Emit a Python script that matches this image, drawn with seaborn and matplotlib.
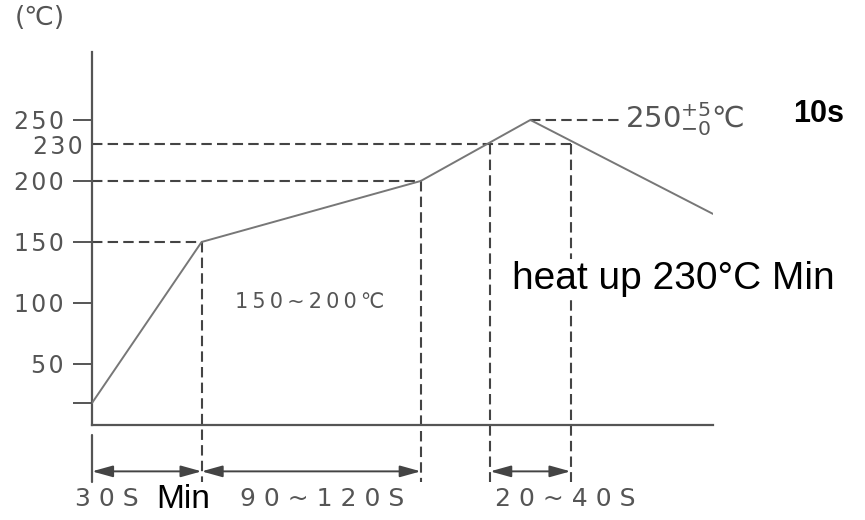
import matplotlib
matplotlib.use("Agg")
import matplotlib.pyplot as plt
import pandas as pd
import seaborn as sns

# reflow profile (time in s, temperature in degC)
time_s = [0, 30, 90, 120, 170]
temp_c = [18, 150, 200, 250, 173]

# dashed guides: where each zone boundary meets the curve
guide_t = [30, 90, 109, 131]
guide_temp = [150, 200, 230, 230]
level_temp = [150, 200, 230]
level_end = [30, 90, 131]
peak_t, peak_temp = 120, 250

ytick_vals = [18, 50, 100, 150, 200, 250]
ytick_text = ["", "50", "100", "150", "200", "250"]
minor_val, minor_text = 230, "230"

spans = [(0, 30), (30, 90), (109, 131)]
span_text = ["30S", "90~120S", "20~40S"]


def wide(s, sep="\u200a"):
    # the original lettering is very loosely spaced
    return sep.join(s)


GREY = "#555555"
DARK = "#444444"

sns.set_style("ticks")
plt.rcParams["font.family"] = ["DejaVu Sans"]

fig = plt.figure(figsize=(8.65, 5.2), dpi=100)
ax = fig.add_axes([92 / 865, 95 / 520, 621 / 865, 373 / 520])

df = pd.DataFrame({"time": time_s, "temp": temp_c})
sns.lineplot(data=df, x="time", y="temp", ax=ax, color="#777777",
             lw=1.4, zorder=3)

ax.set_xlim(0, 170)
ax.set_ylim(0, 305.7)
ax.set_xlabel("")
ax.set_ylabel("")
ax.set_xticks([])

for side in ("top", "right"):
    ax.spines[side].set_visible(False)
for side in ("left", "bottom"):
    ax.spines[side].set_color(GREY)
    ax.spines[side].set_linewidth(1.6)

ax.set_yticks(ytick_vals, [wide(t) for t in ytick_text])
ax.set_yticks([minor_val], [wide(minor_text)], minor=True)
ax.tick_params(axis="y", which="major", length=13.5, width=1.4, color=GREY,
               pad=7, labelsize=17, labelcolor=GREY)
ax.tick_params(axis="y", which="minor", length=0, pad=7,
               labelsize=17, labelcolor=GREY)

dash = dict(color=DARK, lw=1.5, dashes=(5, 2.5))

# horizontal guides from the axis to the curve
for lvl, t_end in zip(level_temp, level_end):
    ax.plot([0, t_end], [lvl, lvl], **dash, zorder=2)
ax.plot([peak_t, 145], [peak_temp, peak_temp], **dash, zorder=2)

# vertical guides down past the axis into the dimension area
y_ext = -47
for t, tp in zip(guide_t, guide_temp):
    ax.plot([t, t], [tp, y_ext], **dash, clip_on=False, zorder=2)
ax.plot([0, 0], [-8, y_ext], color=GREY, lw=1.6, clip_on=False)

# dimension arrows
y_arr = -38
for t0, t1 in spans:
    ax.annotate("", xy=(t1, y_arr), xytext=(t0, y_arr),
                arrowprops=dict(arrowstyle="<|-|>,head_length=0.9,head_width=0.25",
                                color=DARK, lw=1.4, shrinkA=0, shrinkB=0,
                                mutation_scale=14),
                annotation_clip=False)

y_lab = -61
ax.text(4, y_lab, wide(span_text[0], " "), ha="center", va="center",
        fontsize=18, color=GREY)
ax.text(25, y_lab, "Min", ha="center", va="center", fontsize=24,
        color="black", family="Liberation Sans")
ax.text(63, y_lab, wide(span_text[1], " "), ha="center", va="center",
        fontsize=18, color=GREY)
ax.text(129.5, y_lab, wide(span_text[2], " "), ha="center", va="center",
        fontsize=18, color=GREY)

# annotations inside the plot
ax.text(59.5, 101, wide("150~200℃", "\u2009"), ha="center", va="center",
        fontsize=15, color=GREY)
ax.text(115, 120, "heat up 230°C Min", ha="left", va="center",
        fontsize=28, color="black", family="Liberation Sans", zorder=4,
        bbox=dict(facecolor="white", edgecolor="none", pad=1))
ax.text(146, 251, r"250$^{+5}_{-0}$℃", ha="left", va="center",
        fontsize=21, color=GREY, clip_on=False)
ax.text(192, 255, "10s", ha="left", va="center", fontsize=22,
        fontweight="bold", color="black", family="Liberation Sans")

fig.text(15 / 865, 1 - 18 / 520, "(℃)", ha="left", va="center",
         fontsize=19, color=GREY)

fig.savefig("out.png", dpi=100)
